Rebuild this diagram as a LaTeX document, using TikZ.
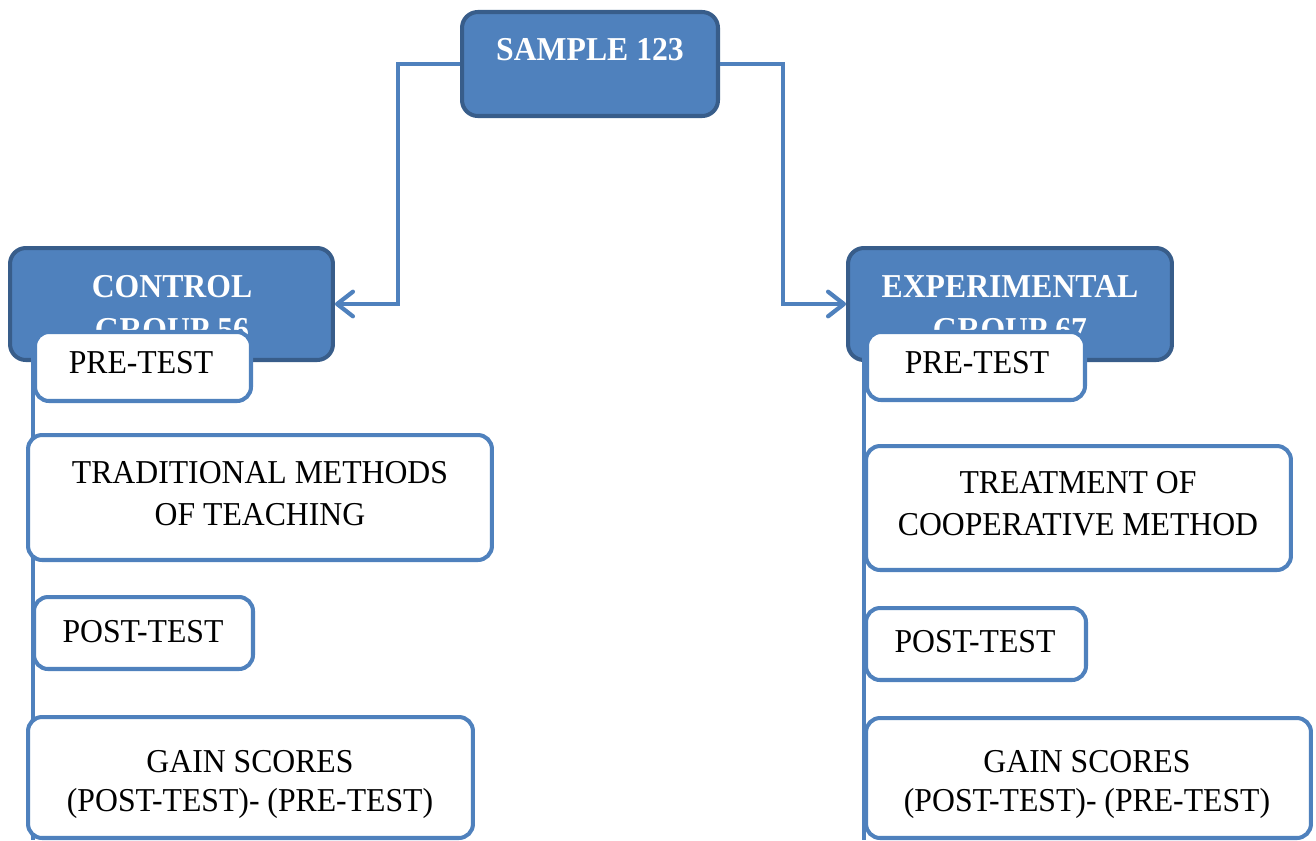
\documentclass[tikz,border=0pt]{standalone}
\usepackage{fontspec}
\setmainfont{Liberation Serif}[FakeStretch=0.95]
\usetikzlibrary{arrows.meta}
\definecolor{accent}{HTML}{4F81BD}
\definecolor{accentdark}{HTML}{385D8A}
\tikzset{
  bluebox/.style={draw=accentdark, fill=accent, line width=2.3pt, rounded corners=9pt, inner sep=0pt},
  whitebox/.style={draw=accent, fill=white, line width=2.3pt, rounded corners=8pt, inner sep=0pt},
  conn/.style={draw=accent, line width=2.4pt, -{Straight Barb[length=9pt,width=14pt,round]}},
  rail/.style={draw=accent, line width=2.3pt},
  btxt/.style={text=white, font=\fontsize{19}{24.4}\selectfont\bfseries, align=center, inner sep=0pt},
  wtxt/.style={text=black, font=\fontsize{19}{24}\selectfont, align=center, inner sep=0pt},
  gtxt/.style={text=black, font=\fontsize{19}{22.2}\selectfont, align=center, inner sep=0pt}
}
\begin{document}
\begin{tikzpicture}[x=0.02cm,y=-0.02cm]
\useasboundingbox (0,0) rectangle (1316,840);
% top box
\node[bluebox, minimum width=5.12cm, minimum height=2.08cm] (sample) at (590,64) {};
\node[btxt] (sampletxt) at (590,50) {SAMPLE 123};
% group boxes
\node[bluebox, minimum width=6.46cm, minimum height=2.24cm] (control) at (171.5,304) {};
\node[btxt] (controltxt) at (172,308) {CONTROL\\GROUP 56};
\node[bluebox, minimum width=6.48cm, minimum height=2.24cm] (exper) at (1010,304) {};
\node[btxt] (expertxt) at (1010,308) {EXPERIMENTAL\\GROUP 67};
% connectors
\coordinate (lk) at (398,64);
\coordinate (rk) at (783,64);
\draw[conn] (sample.west) -- (lk) |- (control.east);
\draw[conn] (sample.east) -- (rk) |- (exper.west);
% rails
\coordinate (lt) at (33,302);
\coordinate (lb) at (33,840);
\coordinate (rt) at (864,300);
\coordinate (rb) at (864,840);
\draw[rail] (lt) -- (lb);
\draw[rail] (rt) -- (rb);
% left column
\node[whitebox, minimum width=4.32cm, minimum height=1.38cm] (pre1) at (143,366.5) {};
\node[wtxt] (pre1txt) at (141,363) {PRE-TEST};
\node[whitebox, minimum width=9.28cm, minimum height=2.5cm] (trad) at (260,497.5) {};
\node[wtxt] (tradtxt) at (260,494) {TRADITIONAL METHODS\\OF TEACHING};
\node[whitebox, minimum width=4.38cm, minimum height=1.44cm] (post1) at (143.5,633) {};
\node[wtxt] (post1txt) at (143,632) {POST-TEST};
\node[whitebox, minimum width=8.9cm, minimum height=2.42cm] (gain1) at (250.5,777.5) {};
\node[gtxt] (gain1txt) at (250,784) {GAIN SCORES\\(POST-TEST)- (PRE-TEST)};
% right column
\node[whitebox, minimum width=4.36cm, minimum height=1.36cm] (pre2) at (976,366) {};
\node[wtxt] (pre2txt) at (977,363) {PRE-TEST};
\node[whitebox, minimum width=8.5cm, minimum height=2.48cm] (treat) at (1078.5,508) {};
\node[wtxt] (treattxt) at (1078,504) {TREATMENT OF\\COOPERATIVE METHOD};
\node[whitebox, minimum width=4.4cm, minimum height=1.44cm] (post2) at (976,644) {};
\node[wtxt] (post2txt) at (975,642) {POST-TEST};
\node[whitebox, minimum width=8.9cm, minimum height=2.4cm] (gain2) at (1088.5,778) {};
\node[gtxt] (gain2txt) at (1087,784) {GAIN SCORES\\(POST-TEST)- (PRE-TEST)};
\end{tikzpicture}
\end{document}
